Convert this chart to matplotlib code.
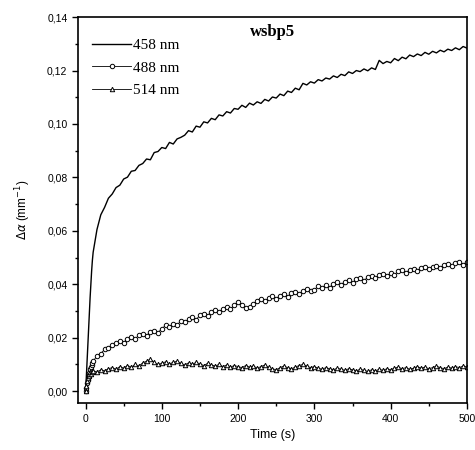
import numpy as np
import matplotlib
matplotlib.use("Agg")
import matplotlib.pyplot as plt
from matplotlib.ticker import MultipleLocator, FuncFormatter

# time grid (s)
time = list(range(0, 11)) + list(range(15, 501, 5))

series_labels = ["458 nm", "488 nm", "514 nm"]

da_458 = [0.0000, 0.0050, 0.0110, 0.0170, 0.0230, 0.0290, 0.0350, 0.0400, 0.0450, 0.0490, 0.0520,
          0.0605, 0.0660, 0.0688, 0.0722, 0.0738, 0.0762, 0.0771, 0.0794, 0.0801, 0.0823,
          0.0826, 0.0845, 0.0852, 0.0869, 0.0866, 0.0893, 0.0897, 0.0912, 0.0908, 0.0931,
          0.0925, 0.0944, 0.0950, 0.0958, 0.0975, 0.0970, 0.0992, 0.0988, 0.1008, 0.1004,
          0.1021, 0.1016, 0.1034, 0.1030, 0.1046, 0.1041, 0.1058, 0.1055, 0.1070, 0.1062,
          0.1078, 0.1071, 0.1083, 0.1077, 0.1092, 0.1086, 0.1101, 0.1097, 0.1112, 0.1106,
          0.1123, 0.1118, 0.1134, 0.1128, 0.1152, 0.1146, 0.1158, 0.1153, 0.1166, 0.1161,
          0.1172, 0.1168, 0.1180, 0.1174, 0.1186, 0.1181, 0.1195, 0.1189, 0.1200, 0.1196,
          0.1206, 0.1199, 0.1210, 0.1204, 0.1238, 0.1226, 0.1234, 0.1229, 0.1245, 0.1237,
          0.1250, 0.1244, 0.1258, 0.1252, 0.1262, 0.1256, 0.1268, 0.1261, 0.1272, 0.1266,
          0.1276, 0.1270, 0.1280, 0.1275, 0.1285, 0.1278, 0.1290, 0.1284]

da_488 = [0.0000, 0.0012, 0.0030, 0.0042, 0.0058, 0.0068, 0.0082, 0.0090, 0.0098, 0.0106, 0.0112,
          0.0132, 0.0141, 0.0156, 0.0160, 0.0174, 0.0180, 0.0186, 0.0182, 0.0196, 0.0201,
          0.0195, 0.0210, 0.0214, 0.0208, 0.0222, 0.0226, 0.0219, 0.0234, 0.0246, 0.0240,
          0.0252, 0.0248, 0.0262, 0.0258, 0.0270, 0.0276, 0.0268, 0.0284, 0.0290, 0.0282,
          0.0298, 0.0304, 0.0296, 0.0308, 0.0315, 0.0306, 0.0322, 0.0332, 0.0324, 0.0312,
          0.0316, 0.0326, 0.0338, 0.0344, 0.0336, 0.0348, 0.0355, 0.0346, 0.0358, 0.0364,
          0.0354, 0.0368, 0.0372, 0.0362, 0.0376, 0.0384, 0.0374, 0.0380, 0.0392, 0.0386,
          0.0396, 0.0388, 0.0402, 0.0408, 0.0398, 0.0410, 0.0416, 0.0406, 0.0418, 0.0422,
          0.0414, 0.0426, 0.0432, 0.0424, 0.0434, 0.0440, 0.0430, 0.0442, 0.0436, 0.0448,
          0.0452, 0.0444, 0.0454, 0.0458, 0.0450, 0.0460, 0.0464, 0.0456, 0.0466, 0.0470,
          0.0462, 0.0472, 0.0476, 0.0468, 0.0478, 0.0482, 0.0474, 0.0484]

da_514 = [0.0000, 0.0020, 0.0038, 0.0050, 0.0058, 0.0064, 0.0070, 0.0066, 0.0074, 0.0070, 0.0076,
          0.0072, 0.0080, 0.0076, 0.0084, 0.0088, 0.0082, 0.0092, 0.0086, 0.0096, 0.0090,
          0.0100, 0.0094, 0.0106, 0.0112, 0.0120, 0.0108, 0.0100, 0.0104, 0.0110, 0.0102,
          0.0108, 0.0112, 0.0104, 0.0098, 0.0106, 0.0100, 0.0108, 0.0102, 0.0096, 0.0104,
          0.0098, 0.0094, 0.0100, 0.0092, 0.0098, 0.0090, 0.0096, 0.0092, 0.0088, 0.0096,
          0.0090, 0.0094, 0.0086, 0.0092, 0.0098, 0.0090, 0.0084, 0.0080, 0.0088, 0.0094,
          0.0088, 0.0084, 0.0090, 0.0096, 0.0100, 0.0094, 0.0088, 0.0092, 0.0086, 0.0082,
          0.0088, 0.0084, 0.0080, 0.0086, 0.0082, 0.0078, 0.0084, 0.0080, 0.0076, 0.0082,
          0.0078, 0.0074, 0.0080, 0.0076, 0.0082, 0.0078, 0.0084, 0.0080, 0.0086, 0.0090,
          0.0084, 0.0088, 0.0082, 0.0086, 0.0092, 0.0086, 0.0090, 0.0084, 0.0088, 0.0094,
          0.0088, 0.0084, 0.0090, 0.0086, 0.0092, 0.0088, 0.0094, 0.0092]

n = min(len(time), len(da_458), len(da_488), len(da_514))

fig = plt.figure(figsize=(4.75, 4.5), dpi=100)
ax = fig.add_axes([0.164, 0.104, 0.819, 0.858])

ax.plot(time[:n], da_458[:n], color="black", lw=1.0, label=series_labels[0])
ax.plot(time[:n], da_488[:n], color="black", lw=0.6, marker="o", ms=3.2,
        mfc="white", mec="black", mew=0.7, label=series_labels[1])
ax.plot(time[:n], da_514[:n], color="black", lw=0.6, marker="^", ms=3.2,
        mfc="white", mec="black", mew=0.7, label=series_labels[2])

ax.set_xlim(-10, 500)
ax.set_ylim(-0.0045, 0.14)
ax.xaxis.set_major_locator(MultipleLocator(100))
ax.xaxis.set_minor_locator(MultipleLocator(50))
ax.yaxis.set_major_locator(MultipleLocator(0.02))
ax.yaxis.set_minor_locator(MultipleLocator(0.01))
ax.yaxis.set_major_formatter(FuncFormatter(lambda v, p: f"{v:.2f}".replace(".", ",")))

ax.tick_params(which="both", direction="out", top=False, right=False,
               labelsize=7.5, width=1.0)
ax.tick_params(which="major", length=4)
ax.tick_params(which="minor", length=2.5)
for lab in ax.get_xticklabels() + ax.get_yticklabels():
    lab.set_family("Liberation Sans")
for s in ax.spines.values():
    s.set_linewidth(1.2)

ax.set_xlabel("Time (s)", family="Liberation Sans", fontsize=9)
ax.set_ylabel(r"$\Delta\alpha$ (mm$^{-1}$)", family="Liberation Sans", fontsize=8.5,
              labelpad=10)

ax.text(0.5, 0.962, "wsbp5", transform=ax.transAxes, ha="center", va="center",
        family="Liberation Serif", fontweight="bold", fontsize=12)

leg = ax.legend(loc="upper left", bbox_to_anchor=(0.0, 0.98), frameon=False,
                prop={"family": "Liberation Serif", "size": 11},
                handlelength=2.6, handletextpad=0.1, labelspacing=0.58,
                borderaxespad=0.5)

fig.savefig("out.png", dpi=100)
